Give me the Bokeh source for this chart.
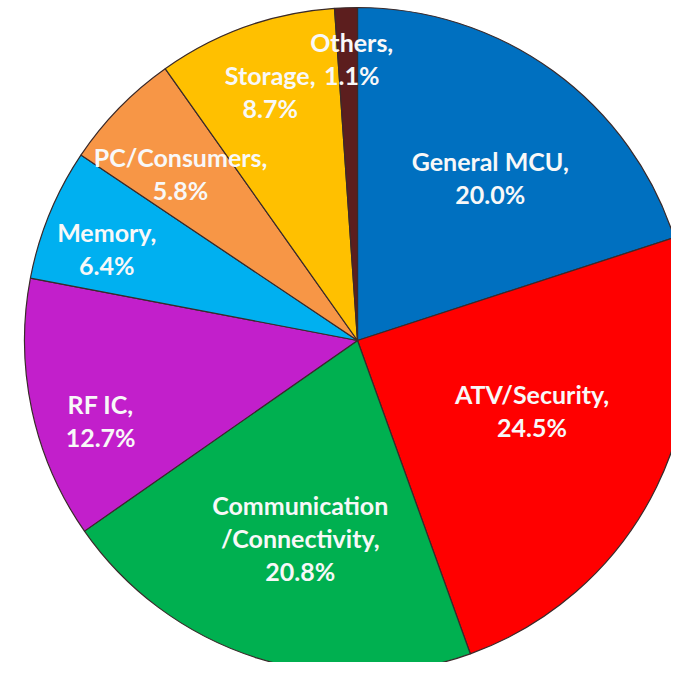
import numpy as np
import pandas as pd
from bokeh.plotting import figure
from bokeh.models import ColumnDataSource, Range1d
from bokeh.core.properties import value
from bokeh.embed import file_html
from bokeh.resources import INLINE

# ---- data ----
categories = ["General MCU", "ATV/Security", "Communication\n/Connectivity", "RF IC",
              "Memory", "PC/Consumers", "Storage", "Others"]
shares = [20.0, 24.5, 20.8, 12.7, 6.4, 5.8, 8.7, 1.1]
colors = ["#0070C0", "#FF0000", "#00B050", "#C21FCB",
          "#00B0F0", "#F79646", "#FFC000", "#5C1E1E"]

# ---- layout (label placement, not data) ----
label_dist = [210, 188, 206, 269, 267, 243, 264, 282]
label_shift_deg = [-3.2, 4.3, 1.5, 5.2, 2.2, 1.0, -0.3, -0.8]

W, H = 671, 662
cx, cy, R = 357, H - 340, 333

df = pd.DataFrame({"cat": categories, "share": shares, "color": colors})
frac = df["share"] / df["share"].sum()
cum_end = frac.cumsum()
cum_start = cum_end - frac
df["start"] = np.pi / 2 - 2 * np.pi * cum_end
df["end"] = np.pi / 2 - 2 * np.pi * cum_start
mid = (df["start"] + df["end"]) / 2 + np.deg2rad(label_shift_deg)
df["lx"] = cx + np.array(label_dist) * np.cos(mid)
df["ly"] = cy + np.array(label_dist) * np.sin(mid)
df["label"] = [f"{c},\n{s:.1f}%" for c, s in zip(categories, shares)]

src = ColumnDataSource(df)

p = figure(width=W, height=H, output_backend="svg", toolbar_location=None,
           x_range=Range1d(0, W), y_range=Range1d(0, H), min_border=0)
p.axis.visible = False
p.grid.visible = False
p.outline_line_color = None
p.background_fill_color = "white"

p.wedge(x=cx, y=cy, radius=R, start_angle="start", end_angle="end",
        fill_color="color", line_color="#3a2a2a", line_width=1.2, source=src)

p.text(x="lx", y="ly", text="label", source=src, text_color="#F8F8F8",
       text_font=value("Lato"), text_font_style="bold", text_font_size="25px",
       text_align="center", text_baseline="middle", text_line_height=1.1)

open("out.html", "w").write(file_html(p, INLINE))
